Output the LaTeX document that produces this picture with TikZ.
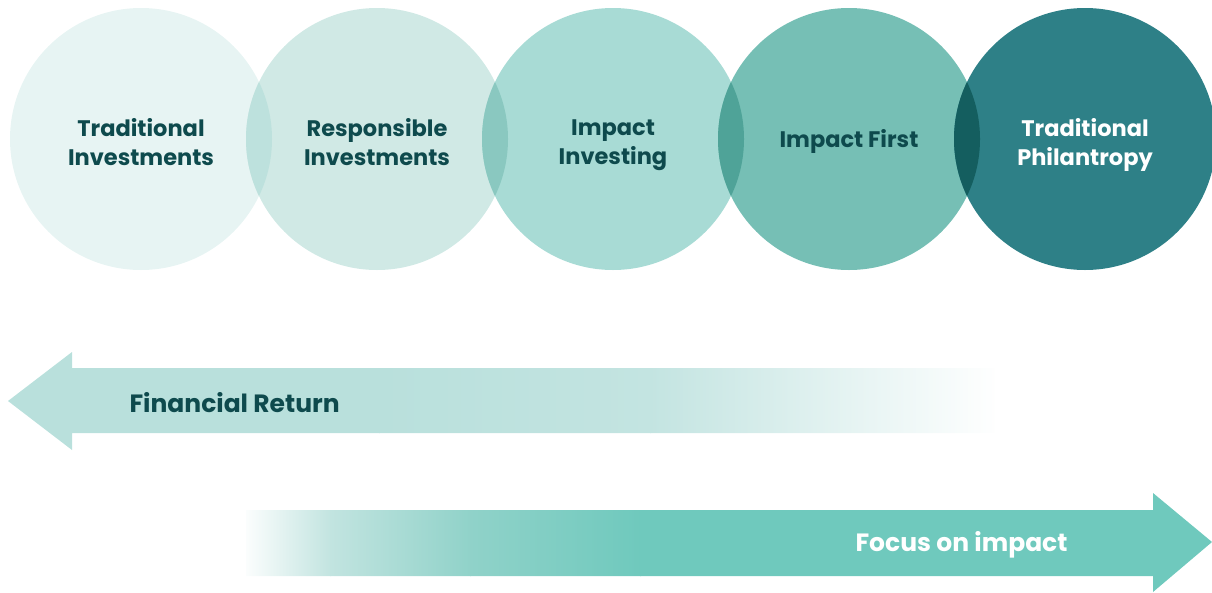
\documentclass[tikz,border=0pt]{standalone}
\usepackage{fontspec}
\setmainfont{Poppins}
\definecolor{cA}{HTML}{E7F4F3}
\definecolor{cB}{HTML}{D0E9E5}
\definecolor{cC}{HTML}{A8DBD5}
\definecolor{cD}{HTML}{76BFB5}
\definecolor{cE}{HTML}{2E8087}
\definecolor{oAB}{HTML}{BDE1DD}
\definecolor{oBC}{HTML}{8AC8C0}
\definecolor{oCD}{HTML}{4FA398}
\definecolor{oDE}{HTML}{145E5F}
\definecolor{txt}{HTML}{0E4A4D}
\definecolor{arrA}{HTML}{B9E0DC}
\definecolor{arrA2}{HTML}{C3E4E1}
\definecolor{arrB}{HTML}{6FC9BD}
\definecolor{arrM1}{HTML}{C2E4E0}
\definecolor{arrM2}{HTML}{90D2C9}
\tikzset{
  lbl/.style={font=\bfseries\fontsize{22.5}{29}\selectfont, align=center, text=txt},
  wlbl/.style={lbl, text=white},
  albl/.style={font=\bfseries\fontsize{25}{29}\selectfont, text=txt, anchor=west},
  walbl/.style={albl, text=white},
}
\begin{document}
\begin{tikzpicture}[x=1pt,y=-1pt]
\useasboundingbox (0,0) rectangle (1212,592);
\clip (0,0) rectangle (1212,592);
\coordinate (c1) at (141,139);
\coordinate (c2) at (377,139);
\coordinate (c3) at (613,139);
\coordinate (c4) at (849,139);
\coordinate (c5) at (1085,139);
\fill[cA] (c1) circle (131);
\fill[cB] (c2) circle (131);
\fill[cC] (c3) circle (131);
\fill[cD] (c4) circle (131);
\fill[cE] (c5) circle (131);
\begin{scope}\clip (c1) circle (131); \fill[oAB] (c2) circle (131);\end{scope}
\begin{scope}\clip (c2) circle (131); \fill[oBC] (c3) circle (131);\end{scope}
\begin{scope}\clip (c3) circle (131); \fill[oCD] (c4) circle (131);\end{scope}
\begin{scope}\clip (c4) circle (131); \fill[oDE] (c5) circle (131);\end{scope}
\node[lbl] (t1) at (141,142) {Traditional\\Investments};
\node[lbl] (t2) at (377,142) {Responsible\\Investments};
\node[lbl] (t3) at (613,145.5) {Impact\\Investing};
\node[lbl] (t4) at (849,141) {Impact First};
\node[wlbl] (t5) at (1085,145) {Traditional\\Philantropy};
% Financial return arrow
\begin{scope}
\clip (8,401) -- (72,352) -- (72,368) -- (995,368) -- (995,433) -- (72,433) -- (72,450) -- cycle;
\fill[arrA] (0,340) rectangle (380,460);
\shade[left color=arrA, right color=arrA2] (379,340) rectangle (651,460);
\shade[left color=arrA2, right color=white] (650,340) rectangle (1000,460);
\end{scope}
\node[albl] (fr) at (126,403) {Financial Return};
% Focus on impact arrow
\begin{scope}
\clip (246,510) -- (1153,510) -- (1153,493) -- (1212,542) -- (1153,592) -- (1153,576) -- (246,576) -- cycle;
\shade[left color=white, right color=arrM1] (240,480) rectangle (331,600);
\shade[left color=arrM1, right color=arrM2] (330,480) rectangle (471,600);
\shade[left color=arrM2, right color=arrB] (470,480) rectangle (641,600);
\fill[arrB] (640,480) rectangle (1212,600);
\end{scope}
\node[walbl] (fi) at (852,545) {Focus on impact};
\end{tikzpicture}
\end{document}
